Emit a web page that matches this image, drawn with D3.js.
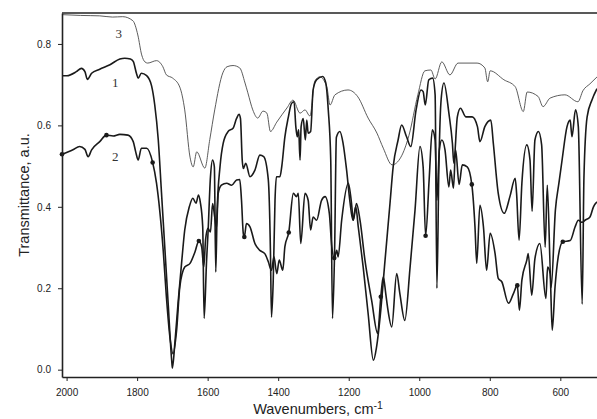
<!DOCTYPE html>
<html>
<head>
<meta charset="utf-8">
<script src="https://cdn.jsdelivr.net/npm/d3@7"></script>
<style>
  body { margin: 0; background: #fff; }
  svg { display: block; }
  .tick text { font-family: "Liberation Sans", Arial, sans-serif; font-size: 10px; fill: #222; }
  .axis-title { font-family: "Liberation Sans", Arial, sans-serif; font-size: 14.5px; fill: #222; }
  .curve-label { font-family: "Liberation Serif", "Times New Roman", serif; font-size: 13px; fill: #333; }
</style>
</head>
<body>
<svg id="chart" width="597" height="419"></svg>
<script>
// spectrum 1: [wavenumber, transmittance]
const trace1 = [[2013,0.722],[1999,0.722],[1972,0.732],[1958,0.740],[1948,0.732],[1941,0.713],[1929,0.728],[1906,0.738],
  [1877,0.749],[1849,0.763],[1835,0.765],[1819,0.763],[1811,0.757],[1802,0.728],[1797,0.716],[1788,0.728],[1773,0.722],
  [1759,0.697],[1750,0.650],[1740,0.564],[1731,0.436],[1721,0.293],[1712,0.163],[1702,0.023],[1700,0.004],[1693,0.065],
  [1684,0.163],[1674,0.261],[1665,0.343],[1652,0.400],[1642,0.421],[1633,0.409],[1626,0.429],[1621,0.412],[1614,0.351],
  [1610,0.126],[1603,0.269],[1599,0.335],[1592,0.474],[1586,0.515],[1581,0.498],[1577,0.240],[1573,0.392],[1565,0.498],
  [1556,0.556],[1542,0.585],[1528,0.593],[1518,0.617],[1511,0.627],[1507,0.617],[1502,0.515],[1499,0.494],[1492,0.507],
  [1480,0.474],[1466,0.490],[1452,0.527],[1441,0.523],[1428,0.466],[1422,0.293],[1419,0.129],[1414,0.220],[1409,0.416],
  [1405,0.474],[1395,0.474],[1390,0.498],[1381,0.572],[1372,0.617],[1362,0.654],[1355,0.658],[1350,0.597],[1346,0.572],
  [1342,0.589],[1338,0.515],[1335,0.597],[1329,0.617],[1323,0.564],[1319,0.613],[1315,0.581],[1308,0.585],[1301,0.687],
  [1291,0.712],[1274,0.720],[1265,0.704],[1258,0.638],[1251,0.515],[1246,0.126],[1240,0.293],[1235,0.571],[1225,0.585],
  [1216,0.556],[1206,0.490],[1197,0.416],[1188,0.367],[1180,0.400],[1173,0.351],[1159,0.252],[1145,0.138],[1130,0.023],
  [1121,0.056],[1111,0.129],[1097,0.269],[1083,0.408],[1074,0.498],[1060,0.564],[1050,0.601],[1036,0.572],[1024,0.548],
  [1009,0.638],[995,0.687],[989,0.683],[983,0.650],[973,0.712],[962,0.716],[955,0.675],[950,0.200],[944,0.515],[938,0.663],
  [930,0.704],[916,0.630],[906,0.556],[902,0.507],[892,0.621],[883,0.642],[868,0.621],[850,0.621],[835,0.597],[828,0.560],
  [814,0.597],[797,0.613],[790,0.556],[776,0.433],[759,0.384],[743,0.425],[728,0.470],[724,0.433],[717,0.318],[709,0.458],
  [695,0.552],[686,0.515],[680,0.389],[672,0.564],[662,0.585],[653,0.552],[643,0.301],[637,0.453],[626,0.202],[614,0.392],
  [604,0.458],[595,0.515],[581,0.597],[572,0.613],[567,0.572],[557,0.638],[549,0.597],[538,0.161],[533,0.473],[524,0.621],
  [510,0.663],[496,0.690]];

// spectrum 2
const trace2 = [[2013,0.529],[1982,0.540],[1963,0.548],[1948,0.541],[1939,0.523],[1929,0.540],[1906,0.560],[1887,0.576],
  [1868,0.574],[1849,0.578],[1826,0.576],[1811,0.560],[1804,0.535],[1797,0.515],[1788,0.544],[1773,0.544],[1756,0.509],
  [1745,0.458],[1736,0.392],[1726,0.293],[1717,0.179],[1707,0.080],[1698,0.039],[1688,0.097],[1679,0.203],[1665,0.252],
  [1650,0.261],[1636,0.289],[1625,0.316],[1617,0.302],[1611,0.252],[1606,0.318],[1599,0.347],[1592,0.338],[1586,0.408],
  [1580,0.375],[1575,0.348],[1570,0.433],[1561,0.453],[1546,0.458],[1532,0.453],[1518,0.466],[1509,0.467],[1504,0.416],
  [1499,0.335],[1496,0.326],[1490,0.359],[1480,0.351],[1466,0.310],[1452,0.293],[1438,0.285],[1428,0.265],[1419,0.244],
  [1412,0.277],[1404,0.236],[1397,0.269],[1387,0.244],[1381,0.302],[1370,0.337],[1357,0.433],[1348,0.425],[1343,0.433],
  [1336,0.310],[1324,0.433],[1315,0.416],[1308,0.343],[1301,0.375],[1291,0.367],[1277,0.416],[1267,0.425],[1255,0.384],
  [1248,0.302],[1241,0.274],[1234,0.293],[1230,0.277],[1220,0.367],[1201,0.458],[1192,0.408],[1187,0.367],[1178,0.408],
  [1168,0.367],[1154,0.269],[1135,0.170],[1118,0.089],[1109,0.179],[1102,0.228],[1095,0.187],[1090,0.154],[1078,0.105],
  [1064,0.236],[1055,0.187],[1041,0.121],[1026,0.252],[1012,0.392],[998,0.548],[989,0.498],[982,0.329],[972,0.466],
  [963,0.589],[955,0.564],[950,0.416],[943,0.540],[936,0.564],[927,0.540],[916,0.449],[911,0.490],[903,0.446],[897,0.540],
  [887,0.455],[878,0.503],[864,0.498],[851,0.455],[842,0.351],[837,0.261],[828,0.404],[818,0.351],[809,0.244],[799,0.335],
  [785,0.285],[776,0.224],[766,0.216],[747,0.163],[733,0.187],[722,0.207],[716,0.146],[709,0.220],[695,0.269],[691,0.285],
  [681,0.183],[672,0.273],[658,0.310],[641,0.175],[636,0.252],[629,0.236],[623,0.097],[615,0.203],[606,0.277],[593,0.314],
  [572,0.317],[558,0.351],[549,0.367],[538,0.362],[530,0.367],[516,0.375],[506,0.400],[496,0.412]];

// spectrum 3
const trace3 = [[2013,0.872],[1960,0.870],[1906,0.869],[1870,0.866],[1841,0.867],[1812,0.857],[1798,0.822],[1787,0.773],
  [1778,0.756],[1770,0.753],[1745,0.759],[1727,0.744],[1717,0.724],[1699,0.716],[1679,0.694],[1665,0.638],[1650,0.522],
  [1641,0.498],[1631,0.535],[1608,0.495],[1594,0.565],[1580,0.638],[1557,0.729],[1545,0.744],[1528,0.747],[1509,0.741],
  [1494,0.704],[1486,0.680],[1472,0.638],[1458,0.618],[1443,0.635],[1432,0.630],[1422,0.585],[1404,0.608],[1375,0.643],
  [1358,0.662],[1338,0.630],[1324,0.638],[1310,0.623],[1296,0.709],[1282,0.719],[1262,0.694],[1253,0.650],[1239,0.675],
  [1202,0.687],[1174,0.670],[1145,0.618],[1120,0.581],[1102,0.544],[1077,0.503],[1052,0.522],[1029,0.576],[1004,0.675],
  [984,0.734],[967,0.736],[955,0.714],[936,0.756],[913,0.724],[890,0.753],[836,0.753],[814,0.741],[806,0.707],[799,0.734],
  [760,0.712],[728,0.695],[705,0.634],[694,0.682],[663,0.671],[649,0.646],[629,0.667],[587,0.675],[550,0.658],[536,0.685],
  [516,0.702],[496,0.719]];

// round markers on spectrum 2
const markers2 = [[2013,0.529],[1887,0.576],[1756,0.509],[1625,0.316],[1496,0.326],[1370,0.337],[1241,0.274],
  [1109,0.179],[982,0.329],[851,0.455],[722,0.207],[593,0.314]];

const curveLabels = [{text: '3', wn: 1852, t: 0.815}, {text: '1', wn: 1862, t: 0.695}, {text: '2', wn: 1862, t: 0.513}];
const xTicks = [2000, 1800, 1600, 1400, 1200, 1000, 800, 600];
const yTicks = [0.0, 0.2, 0.4, 0.6, 0.8];

const svg = d3.select('#chart');
const width = +svg.attr('width');
const height = +svg.attr('height');
const margin = {top: 13, right: 0, bottom: 42, left: 62};
const innerWidth = width - margin.left - margin.right;
const innerHeight = height - margin.top - margin.bottom;

svg.append('rect')
    .attr('width', width)
    .attr('height', height)
    .attr('fill', '#fff');

const g = svg.append('g')
    .attr('transform', `translate(${margin.left}, ${margin.top})`);

const xScale = d3.scaleLinear()
    .domain([2013, 496])
    .range([0, innerWidth]);

const yScale = d3.scaleLinear()
    .domain([-0.018, 0.876])
    .range([innerHeight, 0]);

const line = d3.line()
    .x(d => xScale(d[0]))
    .y(d => yScale(d[1]))
    .curve(d3.curveMonotoneX);

g.append('path').datum(trace3)
    .attr('fill', 'none')
    .attr('stroke', '#4a4a4a')
    .attr('stroke-width', 0.9)
    .attr('d', line);

g.append('path').datum(trace1)
    .attr('fill', 'none')
    .attr('stroke', '#1a1a1a')
    .attr('stroke-width', 1.6)
    .attr('stroke-linejoin', 'round')
    .attr('d', line);

g.append('path').datum(trace2)
    .attr('fill', 'none')
    .attr('stroke', '#1a1a1a')
    .attr('stroke-width', 1.6)
    .attr('stroke-linejoin', 'round')
    .attr('d', line);

g.selectAll('.marker').data(markers2)
  .enter().append('circle')
    .attr('class', 'marker')
    .attr('cx', d => xScale(d[0]))
    .attr('cy', d => yScale(d[1]))
    .attr('r', 2.3)
    .attr('fill', '#1a1a1a');

g.selectAll('.curve-label').data(curveLabels)
  .enter().append('text')
    .attr('class', 'curve-label')
    .attr('x', d => xScale(d.wn))
    .attr('y', d => yScale(d.t))
    .attr('text-anchor', 'middle')
    .text(d => d.text);

// axes
const yAxis = d3.axisLeft(yScale)
    .tickValues(yTicks)
    .tickFormat(d3.format('.1f'))
    .tickSize(4)
    .tickSizeOuter(0)
    .tickPadding(7);

const xAxis = d3.axisBottom(xScale)
    .tickValues(xTicks)
    .tickFormat(d3.format('d'))
    .tickSize(4)
    .tickSizeOuter(0)
    .tickPadding(8);

const yAxisG = g.append('g').call(yAxis);
const xAxisG = g.append('g')
    .attr('transform', `translate(0, ${innerHeight})`)
    .call(xAxis);

[yAxisG, xAxisG].forEach(a => {
  a.select('.domain').attr('stroke', '#222').attr('stroke-width', 1.6);
  a.selectAll('.tick line').attr('stroke', '#222');
});

// top frame line
g.append('line')
    .attr('x1', 0).attr('x2', innerWidth)
    .attr('y1', 0).attr('y2', 0)
    .attr('stroke', '#222')
    .attr('stroke-width', 1.6);

const xTitle = svg.append('text')
    .attr('class', 'axis-title')
    .attr('x', 318)
    .attr('y', 414)
    .attr('text-anchor', 'middle');
xTitle.append('tspan').text('Wavenumbers, cm');
xTitle.append('tspan')
    .attr('dy', '-0.45em')
    .style('font-size', '10.5px')
    .text('-1');

svg.append('text')
    .attr('class', 'axis-title')
    .attr('transform', 'translate(29, 195) rotate(-90)')
    .attr('text-anchor', 'middle')
    .text('Transmittance, a.u.');
</script>
</body>
</html>
